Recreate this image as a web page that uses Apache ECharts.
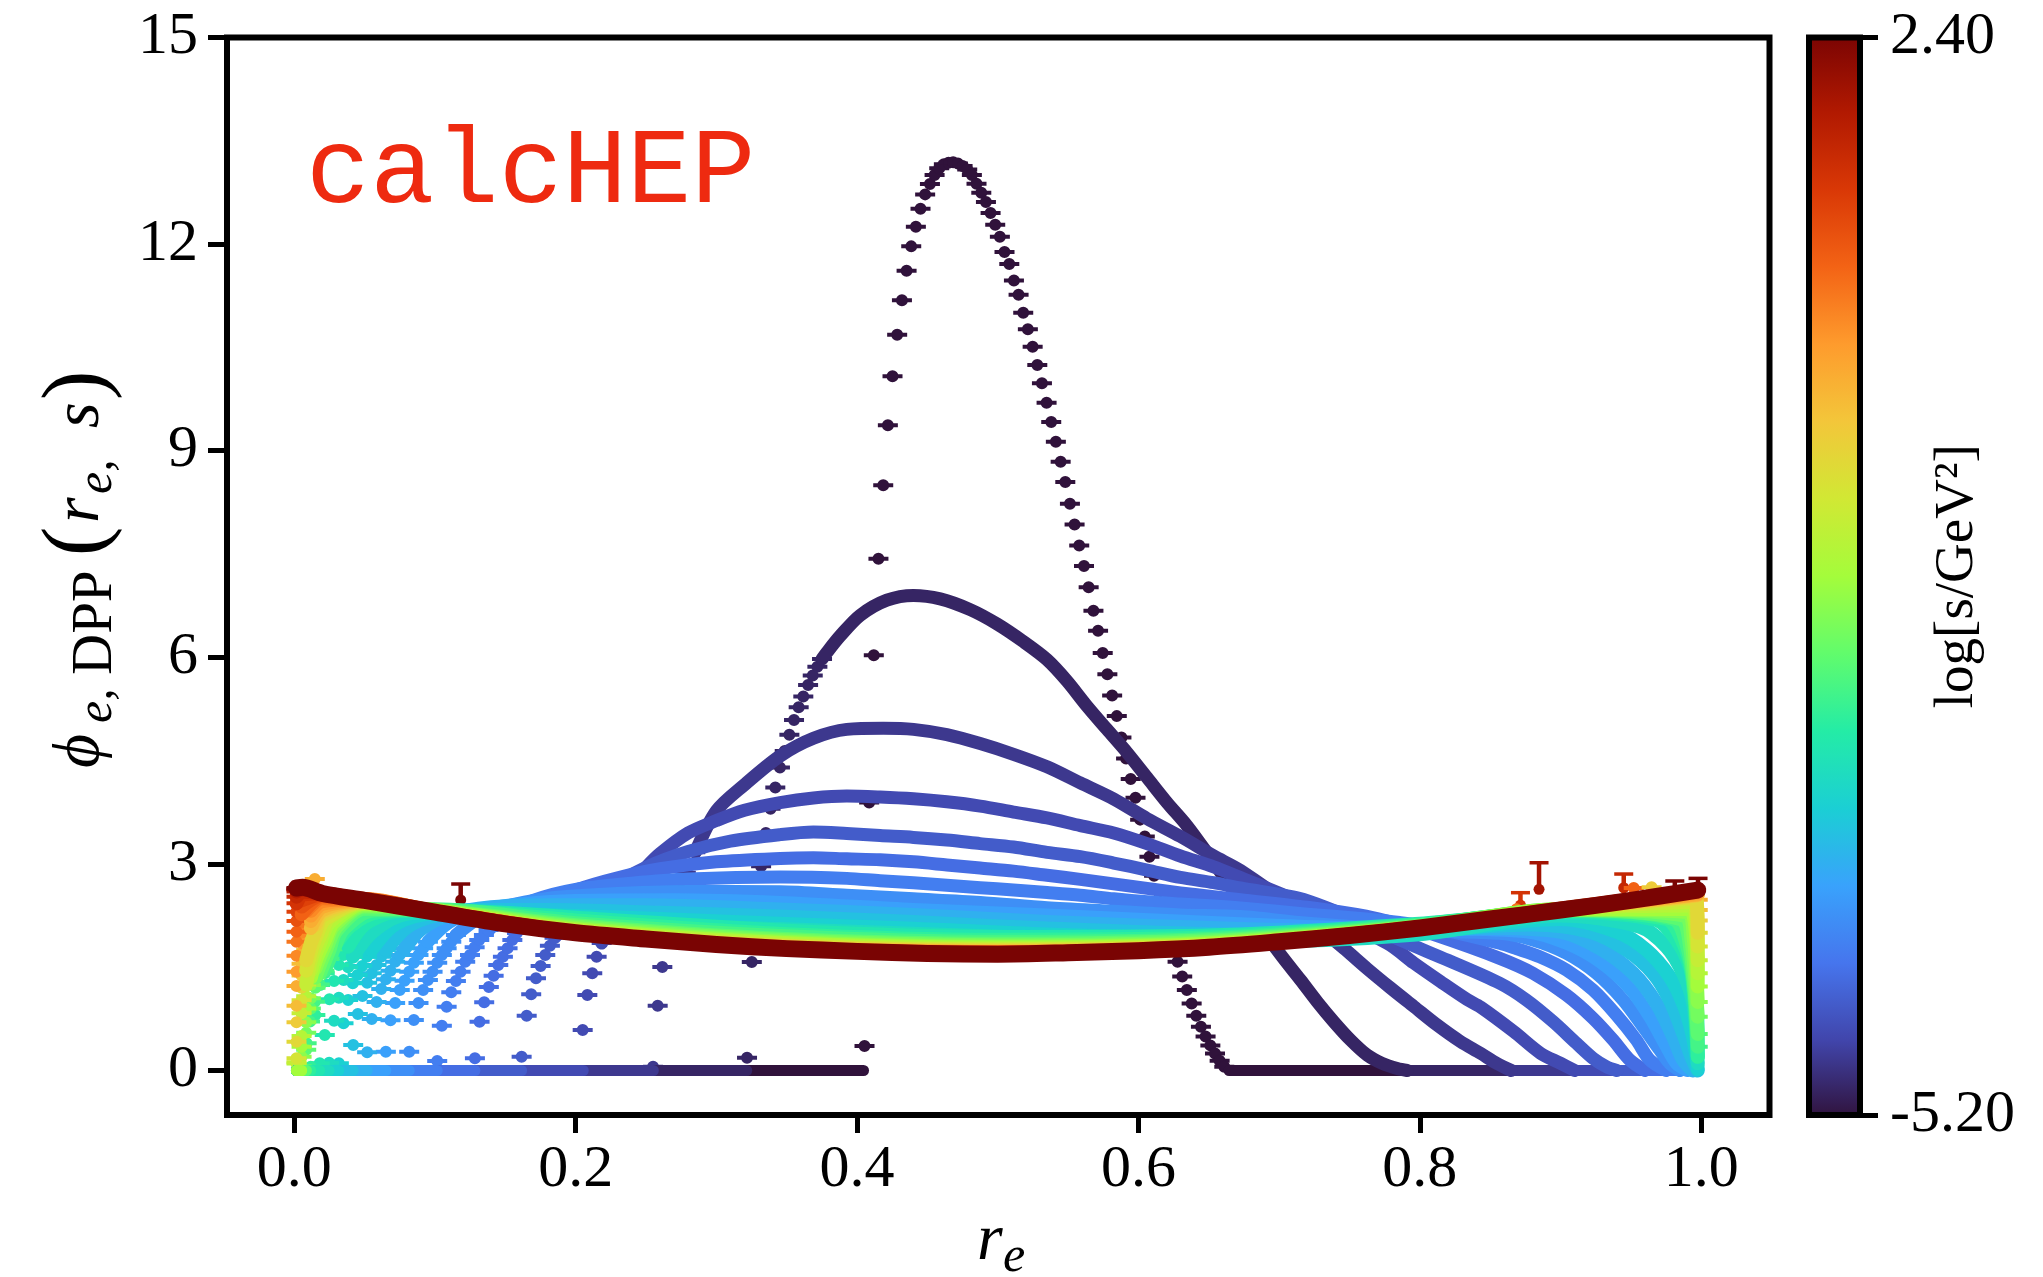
<!DOCTYPE html>
<html>
<head>
<meta charset="UTF-8">
<title>calcHEP</title>
<script src="https://cdn.jsdelivr.net/npm/echarts@6/dist/echarts.min.js"></script>
<style>
  html, body { margin: 0; padding: 0; background: #fff; }
  #main { width: 2043px; height: 1277px; }
</style>
</head>
<body>
<div id="main"></div>
<script>
var xTicks = [0, 0.2, 0.4, 0.6, 0.8, 1.0];
var yTicks = [0, 3, 6, 9, 12, 15];
var barTicks = [-5.2, 2.4];

var turbo = ['#30123b', '#4145ab', '#4675ed', '#39a2fc', '#1bcfd4', '#24eca6', '#61fc6c', '#a4fc3b',
             '#d1e834', '#f3c63a', '#fe9b2d', '#f36315', '#d93806', '#b11901', '#7a0403'];

// log s of each curve, lowest first (drawn in this order)
var logS = [-5.2, -5.0, -4.8, -4.6, -4.4, -4.2, -4.0, -3.8, -3.6, -3.4, -3.2, -3.0, -2.8, -2.6, -2.4, -2.2,
            -2.0, -1.8, -1.6, -1.4, -1.2, -1.0, -0.8, -0.6, -0.4, -0.2, 0.0, 0.2, 0.4, 0.6, 0.8, 1.0,
            1.2, 1.4, 1.6, 1.8, 2.0, 2.2, 2.4];

// where each curve leaves zero on the left and comes back to zero on the right
var riseStart = [0.4046, 0.3216, 0.2552, 0.2054, 0.1616, 0.1284, 0.1016, 0.0817, 0.0651, 0.0518, 0.0419, 0.0317, 0.0248, 0.0181, 0.0117, 0.0088, 0.0085, 0.0052, 0.0052, 0.0052];
var fallEnd = [0.6644, 0.791, 0.865, 0.91, 0.94, 0.96, 0.975, 0.985, 0.99, 0.994, 0.9975, 0.9975];

var curve00Dots = [[0.4053,0.355],[0.4086,3.89],[0.4119,6.03],[0.4152,7.43],[0.4186,8.497],[0.4219,9.368],[0.4252,10.08],[0.4285,10.684],[0.4319,11.183],[0.4352,11.614],[0.4385,11.967],[0.4418,12.253],[0.4451,12.514],[0.4484,12.722],[0.4518,12.872],[0.4551,13.003],[0.4584,13.1],[0.4617,13.158],[0.465,13.182],[0.4683,13.187],[0.4717,13.172],[0.475,13.133],[0.4783,13.085],[0.4816,13.003],[0.4849,12.877],[0.4883,12.746],[0.4916,12.611],[0.4949,12.451],[0.4982,12.282],[0.5015,12.107],[0.5048,11.885],[0.5082,11.71],[0.5115,11.473],[0.5148,11.265],[0.5181,11.004],[0.5214,10.762],[0.5248,10.51],[0.5281,10.244],[0.5314,9.978],[0.5347,9.697],[0.538,9.416],[0.5413,9.131],[0.5447,8.84],[0.548,8.545],[0.5513,8.23],[0.5546,7.93],[0.5579,7.625],[0.5613,7.325],[0.5646,7.018],[0.568,6.676],[0.5713,6.386],[0.5746,6.064],[0.5779,5.753],[0.5813,5.447],[0.5846,5.146],[0.5879,4.835],[0.5912,4.529],[0.5945,4.234],[0.5979,3.959],[0.6012,3.643],[0.6045,3.399],[0.6078,3.103],[0.6111,2.828],[0.6145,2.595],[0.6178,2.336],[0.6211,2.076],[0.6244,1.827],[0.6278,1.578],[0.6311,1.366],[0.6344,1.169],[0.6378,0.972],[0.6411,0.796],[0.6444,0.635],[0.6477,0.495],[0.6511,0.365],[0.6544,0.246],[0.6577,0.142],[0.661,0.054]];

var curve01Dots = [[0.3218,0.186],[0.3252,1.575],[0.3285,2.35],[0.3318,2.965],[0.3352,3.45],[0.3385,3.8],[0.3419,4.11],[0.3452,4.4],[0.3486,4.64],[0.3519,4.877],[0.3552,5.089],[0.3585,5.276],[0.3618,5.432],[0.3652,5.597],[0.3685,5.737],[0.3718,5.862],[0.3751,5.976]];
var curve01Line = [[0.3751,5.976],[0.3785,6.07],[0.388,6.31],[0.4022,6.61],[0.4212,6.83],[0.4401,6.899],[0.4591,6.848],[0.4804,6.692],[0.4994,6.485],[0.5184,6.225],[0.535,5.966],[0.5492,5.656],[0.5634,5.292],[0.5776,4.954],[0.5919,4.617],[0.6061,4.254],[0.6203,3.891],[0.6345,3.555],[0.6487,3.16],[0.675,2.4],[0.7021,1.653],[0.7152,1.314],[0.727,0.999],[0.7388,0.709],[0.7507,0.443],[0.7625,0.225],[0.7732,0.104],[0.7839,0.03],[0.791,0]];

var curve02Dots = [[0.255,0.055],[0.2583,0.941],[0.2616,1.503],[0.265,1.95],[0.2683,2.3],[0.2717,2.55],[0.275,2.75],[0.2783,2.87],[0.2817,2.984],[0.285,3.168]];
var curve02Line = [[0.285,3.168],[0.3,3.77],[0.32,4.15],[0.3453,4.567],[0.369,4.825],[0.3927,4.954],[0.4186,4.97],[0.4401,4.954],[0.4638,4.877],[0.4875,4.747],[0.5112,4.591],[0.535,4.41],[0.5587,4.176],[0.5824,3.944],[0.6061,3.658],[0.6298,3.399],[0.6535,3.115],[0.6725,2.905],[0.7143,2.3],[0.7459,1.774],[0.7625,1.48],[0.7791,1.2],[0.7957,0.93],[0.8123,0.66],[0.8289,0.42],[0.8431,0.25],[0.855,0.1],[0.865,0]];

var curve03Dots = [[0.205,0.588],[0.2083,1.096],[0.2118,1.411],[0.2149,1.653],[0.2185,1.851]];
var curve03Line = [[0.2185,1.851],[0.225,2.2],[0.235,2.6],[0.25,2.95],[0.26,3.15],[0.28,3.45],[0.3,3.63],[0.32,3.78],[0.3453,3.891],[0.369,3.958],[0.3927,3.986],[0.4164,3.971],[0.4401,3.945],[0.4638,3.902],[0.4875,3.84],[0.5112,3.753],[0.535,3.668],[0.5587,3.555],[0.5824,3.45],[0.6061,3.295],[0.6298,3.115],[0.6535,2.958],[0.6725,2.802],[0.7143,2.45],[0.7768,1.847],[0.7957,1.56],[0.8147,1.29],[0.8336,1.03],[0.8432,0.92],[0.8668,0.564],[0.8858,0.25],[0.9001,0.104],[0.91,0]];

var curve04Dots = [[0.1616,0.2],[0.1652,0.796],[0.1684,1.106],[0.1718,1.338],[0.1751,1.517],[0.1784,1.677],[0.1817,1.812],[0.185,1.928]];
var curve04Line = [[0.185,1.928],[0.2,2.25],[0.22,2.6],[0.25,2.95],[0.28,3.18],[0.31,3.33],[0.3453,3.425],[0.369,3.463],[0.3927,3.441],[0.4164,3.411],[0.4401,3.385],[0.4638,3.347],[0.4875,3.295],[0.5112,3.245],[0.535,3.167],[0.5587,3.105],[0.5824,3.013],[0.6061,2.911],[0.6298,2.804],[0.6535,2.727],[0.6725,2.65],[0.7143,2.5],[0.738,2.33],[0.7618,2.14],[0.7855,1.9],[0.82,1.6],[0.8568,1.266],[0.8757,1.024],[0.8947,0.709],[0.9113,0.395],[0.9231,0.177],[0.9326,0.055],[0.94,0]];

var curve05Dots = [[0.1284,0.177],[0.1317,0.709],[0.135,0.99],[0.1383,1.212],[0.1417,1.377],[0.145,1.532],[0.1483,1.653],[0.1516,1.774],[0.155,1.895],[0.1583,1.997],[0.1616,2.084]];
var curve05Line = [[0.1616,2.084],[0.18,2.42],[0.2,2.62],[0.23,2.8],[0.26,2.93],[0.3,3.03],[0.3453,3.08],[0.369,3.09],[0.3927,3.074],[0.4164,3.06],[0.4401,3.03],[0.4638,2.985],[0.4875,2.94],[0.5112,2.895],[0.535,2.835],[0.5587,2.775],[0.5824,2.71],[0.6061,2.645],[0.6298,2.58],[0.6535,2.525],[0.6725,2.48],[0.72,2.37],[0.7618,2.24],[0.7855,2.12],[0.809,1.98],[0.8568,1.629],[0.8805,1.411],[0.9042,1.096],[0.9231,0.758],[0.9374,0.443],[0.9492,0.152],[0.96,0]];

var curve06Dots = [[0.1016,0.138],[0.1049,0.651],[0.1083,0.927],[0.1116,1.135],[0.1149,1.3],[0.1182,1.435],[0.1215,1.58],[0.1249,1.677],[0.1282,1.789],[0.1315,1.895],[0.1348,1.967],[0.1381,2.04]];
var curve06Line = [[0.1381,2.04],[0.15,2.25],[0.17,2.47],[0.2,2.63],[0.24,2.72],[0.28,2.78],[0.3453,2.81],[0.3927,2.79],[0.4164,2.755],[0.4401,2.727],[0.4638,2.69],[0.4875,2.655],[0.5112,2.622],[0.535,2.585],[0.5587,2.545],[0.5824,2.493],[0.6061,2.45],[0.6298,2.418],[0.6535,2.389],[0.6725,2.36],[0.72,2.27],[0.7618,2.2],[0.7855,2.15],[0.809,2.08],[0.8568,1.847],[0.8686,1.77],[0.8852,1.652],[0.9042,1.459],[0.9231,1.169],[0.9397,0.806],[0.9539,0.443],[0.9634,0.152],[0.975,0]];

var curve07Dots = [[0.0817,0.273],[0.085,0.733],[0.0883,0.98],[0.0916,1.169],[0.095,1.314],[0.0983,1.435],[0.1016,1.565],[0.1049,1.677],[0.1083,1.774],[0.1116,1.87],[0.1149,1.967]];
var curve07Line = [[0.1149,1.967],[0.13,2.2],[0.15,2.38],[0.18,2.5],[0.22,2.56],[0.28,2.6],[0.3453,2.597],[0.3927,2.545],[0.4401,2.493],[0.4875,2.441],[0.535,2.364],[0.5824,2.312],[0.6298,2.259],[0.6725,2.235],[0.72,2.14],[0.8,2.03],[0.8568,1.992],[0.8805,1.895],[0.9042,1.702],[0.9255,1.411],[0.9444,1.024],[0.9586,0.636],[0.9705,0.298],[0.9776,0.104],[0.985,0]];

var curve08Dots = [[0.0651,0.273],[0.0684,0.729],[0.0717,0.98],[0.075,1.169],[0.0784,1.304],[0.0817,1.435],[0.085,1.565],[0.0883,1.677],[0.0916,1.774],[0.095,1.87]];
var curve08Line = [[0.095,1.87],[0.11,2.15],[0.13,2.32],[0.16,2.42],[0.2,2.47],[0.27,2.48],[0.3453,2.441],[0.4401,2.338],[0.535,2.259],[0.6725,2.13],[0.75,2.07],[0.8,2.06],[0.8757,2.016],[0.9042,1.847],[0.928,1.58],[0.9492,1.194],[0.9634,0.781],[0.9752,0.346],[0.9823,0.104],[0.99,0]];

var curve09Dots = [[0.0518,0.264],[0.0551,0.748],[0.0585,0.995],[0.0618,1.183],[0.0651,1.324],[0.0684,1.449],[0.0717,1.58],[0.075,1.677],[0.0784,1.774]];
var curve09Line = [[0.0784,1.774],[0.09,2.05],[0.11,2.26],[0.14,2.37],[0.18,2.4],[0.25,2.4],[0.3453,2.338],[0.4401,2.259],[0.535,2.156],[0.6725,2.055],[0.75,2.03],[0.85,2.07],[0.8994,2.016],[0.928,1.774],[0.9516,1.411],[0.9681,0.976],[0.98,0.491],[0.9871,0.152],[0.994,0]];

var curve10Dots = [[0.0419,0.37],[0.0452,0.82],[0.0485,1.082],[0.0518,1.275],[0.0551,1.411],[0.0585,1.532],[0.0618,1.653],[0.0651,1.75]];
var curve10Line = [[0.0651,1.75],[0.08,2.08],[0.1,2.25],[0.13,2.33],[0.18,2.33],[0.26,2.29],[0.3453,2.235],[0.4401,2.156],[0.535,2.062],[0.6725,1.975],[0.8,2.03],[0.88,2.12],[0.9208,2.016],[0.9469,1.75],[0.9658,1.411],[0.9776,1.024],[0.9871,0.54],[0.993,0.2],[0.9975,0]];

var curve11Dots = [[0.0317,0.104],[0.035,0.685],[0.0383,1.024],[0.0416,1.266],[0.045,1.387],[0.0483,1.517],[0.0516,1.653],[0.0549,1.75]];
var curve11Line = [[0.0549,1.75],[0.07,2.1],[0.09,2.26],[0.12,2.3],[0.18,2.26],[0.26,2.2],[0.3453,2.13],[0.4401,2.06],[0.535,1.975],[0.6725,1.909],[0.8,2.0],[0.9,2.2],[0.9397,2.016],[0.961,1.75],[0.9776,1.362],[0.9871,0.976],[0.993,0.588],[0.9966,0.2],[0.9975,0.02]];

var curve12Dots = [[0.0248,0.113],[0.0283,0.723],[0.0317,1.057],[0.035,1.314],[0.0383,1.498],[0.0416,1.653]];
var curve12Line = [[0.0416,1.653],[0.055,2.0],[0.075,2.25],[0.1,2.3],[0.15,2.24],[0.25,2.11],[0.3453,2.055],[0.4401,1.985],[0.535,1.924],[0.6725,1.872],[0.8,1.98],[0.9,2.25],[0.9563,2.088],[0.9752,1.798],[0.9871,1.411],[0.9942,0.976],[0.9975,0.104]];

var curve13Dots = [[0.0181,0.104],[0.0217,0.515],[0.025,1.034],[0.0283,1.3],[0.0317,1.532],[0.035,1.677],[0.0383,1.798]];
var curve13Line = [[0.0383,1.798],[0.05,2.12],[0.07,2.3],[0.1,2.33],[0.2,2.22],[0.35,2.03],[0.5,1.94],[0.65,1.96],[0.8,2.13],[0.9,2.3],[0.968,2.185],[0.9823,1.895],[0.9918,1.507],[0.9966,1.024],[0.9975,0.2]];

var curve14Dots = [[0.0117,0.055],[0.015,0.806],[0.0184,1.241],[0.0217,1.411],[0.025,1.644],[0.0283,1.798]];
var curve14Line = [[0.0283,1.798],[0.04,2.1],[0.06,2.3],[0.1,2.33],[0.2,2.18],[0.35,1.98],[0.5,1.9],[0.65,1.93],[0.8,2.12],[0.9,2.32],[0.975,2.2],[0.985,1.95],[0.993,1.45],[0.9975,0.2]];

var curve15Dots = [[0.0088,0.395],[0.0112,0.71],[0.0147,1.0],[0.018,1.25],[0.0215,1.45],[0.025,1.62],[0.028,1.76],[0.9975,0.346]];
var curve15Line = [[0.0215,1.45],[0.025,1.62],[0.028,1.76],[0.035,2.05],[0.055,2.32],[0.1,2.34],[0.2,2.14],[0.35,1.95],[0.5,1.87],[0.65,1.91],[0.8,2.11],[0.9,2.33],[0.98,2.2],[0.99,1.8],[0.995,1.2],[0.9975,0.346]];

var curve16Dots = [[0.0085,0.3],[0.0118,0.9],[0.0151,1.2],[0.0185,1.42],[0.022,1.6],[0.025,1.75],[0.9975,0.53]];
var curve16Line = [[0.0185,1.42],[0.022,1.6],[0.025,1.75],[0.03,2.03],[0.05,2.35],[0.1,2.33],[0.2,2.11],[0.35,1.91],[0.5,1.84],[0.65,1.89],[0.8,2.1],[0.9,2.33],[0.985,2.2],[0.992,1.8],[0.9975,0.53]];

var curve17Dots = [[0.0052,0.06],[0.0085,0.55],[0.0118,1.05],[0.0151,1.35],[0.0185,1.55],[0.022,1.72],[0.9975,0.781]];
var curve17Line = [[0.0151,1.35],[0.0185,1.55],[0.022,1.72],[0.03,2.08],[0.05,2.38],[0.1,2.33],[0.2,2.09],[0.35,1.89],[0.5,1.82],[0.65,1.87],[0.8,2.09],[0.9,2.34],[0.988,2.25],[0.993,1.9],[0.9975,0.781]];

var curve18Dots = [[0.0052,0.2],[0.0085,0.7],[0.0118,1.24],[0.0151,1.48],[0.0185,1.66],[0.022,1.82],[0.9975,0.996]];
var curve18Line = [[0.0151,1.48],[0.0185,1.66],[0.022,1.82],[0.028,2.1],[0.05,2.4],[0.1,2.33],[0.2,2.07],[0.35,1.87],[0.5,1.8],[0.65,1.85],[0.8,2.09],[0.9,2.34],[0.99,2.3],[0.9945,1.95],[0.9975,0.996]];

var curve19Dots = [[0.0052,0.346],[0.0085,0.9],[0.0118,1.35],[0.0151,1.58],[0.0185,1.75],[0.022,1.9],[0.9975,1.22]];
var curve19Line = [[0.0118,1.35],[0.0151,1.58],[0.0185,1.75],[0.022,1.9],[0.028,2.15],[0.05,2.42],[0.1,2.32],[0.2,2.05],[0.35,1.85],[0.5,1.785],[0.65,1.84],[0.8,2.08],[0.9,2.34],[0.992,2.35],[0.9975,1.22]];

var curve20Dots = [[0.0016,0.1],[0.0052,0.5],[0.0085,1.08],[0.0118,1.45],[0.0151,1.68],[0.0185,1.85],[0.9975,1.411]];
var curve20Line = [[0.0118,1.45],[0.0151,1.68],[0.0185,1.85],[0.025,2.15],[0.05,2.43],[0.1,2.32],[0.2,2.04],[0.35,1.84],[0.5,1.77],[0.65,1.83],[0.8,2.08],[0.9,2.34],[0.994,2.4],[0.9975,1.411]];

var curve21Dots = [[0.0016,0.12],[0.0052,0.83],[0.0085,1.25],[0.0118,1.6],[0.0151,1.8],[0.0185,1.95],[0.9975,1.6]];
var curve21Line = [[0.0085,1.25],[0.0118,1.6],[0.0151,1.8],[0.0185,1.95],[0.025,2.22],[0.05,2.44],[0.1,2.31],[0.2,2.03],[0.35,1.82],[0.5,1.76],[0.65,1.82],[0.8,2.08],[0.9,2.34],[0.995,2.45],[0.9975,1.6]];

var curve22Dots = [[0.0016,0.177],[0.0052,1.02],[0.0085,1.45],[0.0118,1.72],[0.0151,1.92],[0.9975,1.8]];
var curve22Line = [[0.0085,1.45],[0.0118,1.72],[0.0151,1.92],[0.022,2.2],[0.05,2.45],[0.1,2.31],[0.2,2.02],[0.35,1.81],[0.5,1.75],[0.65,1.81],[0.8,2.08],[0.9,2.34],[0.996,2.5],[0.9975,1.8]];

var curve23Dots = [[0.0016,0.418],[0.0052,1.2],[0.0085,1.6],[0.0118,1.85],[0.0151,2.02],[0.9975,2.0]];
var curve23Line = [[0.0085,1.6],[0.0118,1.85],[0.0151,2.02],[0.02,2.25],[0.05,2.45],[0.1,2.31],[0.2,2.01],[0.35,1.8],[0.5,1.74],[0.65,1.81],[0.8,2.07],[0.9,2.34],[0.996,2.52],[0.9975,2.0]];

var curve24Dots = [[0.0016,0.7],[0.0052,1.38],[0.0085,1.75],[0.0118,1.97],[0.0151,2.12],[0.9975,2.18]];
var curve24Line = [[0.0151,2.12],[0.02,2.3],[0.05,2.46],[0.1,2.3],[0.2,2.01],[0.35,1.79],[0.5,1.73],[0.65,1.8],[0.8,2.07],[0.9,2.33],[0.997,2.54]];

var curve25Dots = [[0.0016,0.941],[0.0052,1.55],[0.0085,1.88],[0.0118,2.07],[0.9975,2.33]];
var curve25Line = [[0.0118,2.07],[0.02,2.33],[0.05,2.47],[0.1,2.31],[0.2,2.01],[0.35,1.79],[0.5,1.725],[0.65,1.8],[0.8,2.07],[0.9,2.34],[0.9975,2.55]];

var curve26Dots = [[0.0016,1.227],[0.0052,1.7],[0.0085,2.0],[0.0118,2.17],[0.9975,2.48]];
var curve26Line = [[0.0118,2.17],[0.02,2.38],[0.05,2.47],[0.1,2.31],[0.2,2.01],[0.35,1.78],[0.5,1.72],[0.65,1.8],[0.8,2.07],[0.9,2.34],[0.9975,2.56]];

var curve27Dots = [[0.0016,1.435],[0.0052,1.85],[0.0085,2.12],[0.0118,2.25]];
var curve27Line = [[0.0118,2.25],[0.02,2.42],[0.05,2.48],[0.1,2.31],[0.2,2.01],[0.35,1.78],[0.5,1.72],[0.65,1.8],[0.8,2.08],[0.9,2.34],[0.9975,2.58]];

var curve28Dots = [[0.0016,1.667],[0.0052,2.0],[0.0085,2.22],[0.0118,2.32]];
var curve28Line = [[0.0118,2.32],[0.02,2.46],[0.05,2.49],[0.1,2.31],[0.2,2.01],[0.35,1.78],[0.5,1.715],[0.65,1.8],[0.8,2.08],[0.9,2.35],[0.9975,2.6]];

var curve29Dots = [[0.0016,1.87],[0.0052,2.15],[0.0085,2.32]];
var curve29Line = [[0.0085,2.32],[0.02,2.5],[0.05,2.49],[0.1,2.31],[0.2,2.01],[0.35,1.78],[0.5,1.71],[0.65,1.8],[0.8,2.08],[0.9,2.35],[0.9975,2.61]];

var curve30Dots = [[0.0016,2.015],[0.0052,2.27]];
var curve30Line = [[0.0052,2.27],[0.02,2.53],[0.05,2.49],[0.1,2.31],[0.2,2.01],[0.35,1.78],[0.5,1.71],[0.65,1.8],[0.8,2.08],[0.9,2.34],[0.9975,2.62]];

var curve31Dots = [[0.0016,2.171],[0.0052,2.38]];
var curve31Line = [[0.0052,2.38],[0.02,2.55],[0.05,2.48],[0.1,2.31],[0.2,2.0],[0.35,1.78],[0.5,1.71],[0.65,1.79],[0.8,2.07],[0.9,2.34],[0.9975,2.62]];

var curve32Dots = [[0.0016,2.306],[0.0052,2.47]];
var curve32Line = [[0.0052,2.47],[0.02,2.56],[0.05,2.48],[0.1,2.3],[0.2,2.0],[0.35,1.77],[0.5,1.7],[0.65,1.79],[0.8,2.07],[0.9,2.33],[0.9975,2.62]];

var curve33Dots = [[0.0016,2.428]];
var curve33Line = [[0.0016,2.428],[0.006,2.56],[0.02,2.57],[0.05,2.47],[0.1,2.3],[0.2,2.0],[0.35,1.77],[0.5,1.7],[0.65,1.79],[0.8,2.07],[0.9,2.33],[0.9975,2.62]];

var curve34Dots = [[0.0016,2.524]];
var curve34Line = [[0.0016,2.524],[0.006,2.6],[0.02,2.57],[0.05,2.47],[0.1,2.3],[0.2,2.0],[0.35,1.77],[0.5,1.7],[0.65,1.79],[0.8,2.07],[0.9,2.33],[0.9975,2.62]];

var curve35Dots = [[0.0016,2.6]];
var curve35Line = [[0.0016,2.6],[0.006,2.63],[0.02,2.57],[0.05,2.47],[0.1,2.3],[0.2,2.0],[0.35,1.77],[0.5,1.7],[0.65,1.79],[0.8,2.07],[0.9,2.33],[0.9975,2.62]];

var curve36Dots = [[0.0016,2.63]];
var curve36Line = [[0.0016,2.63],[0.006,2.64],[0.02,2.57],[0.05,2.47],[0.1,2.3],[0.2,2.0],[0.35,1.77],[0.5,1.7],[0.65,1.79],[0.8,2.07],[0.9,2.33],[0.9975,2.62]];

var curve37Dots = [[0.0016,2.64]];
var curve37Line = [[0.0016,2.64],[0.006,2.65],[0.02,2.57],[0.05,2.47],[0.1,2.3],[0.2,2.0],[0.35,1.77],[0.5,1.7],[0.65,1.79],[0.8,2.07],[0.9,2.33],[0.9975,2.62]];

var curve38Dots = [[0.1982,2.113],[0.4946,1.72],[0.6914,1.92],[0.0016,2.65]];
var curve38Line = [[0.0016,2.65],[0.006,2.66],[0.02,2.57],[0.05,2.47],[0.1,2.3],[0.15,2.13],[0.2,2.0],[0.25,1.91],[0.3,1.83],[0.35,1.77],[0.4,1.73],[0.45,1.7],[0.5,1.69],[0.55,1.71],[0.6,1.74],[0.65,1.79],[0.7,1.87],[0.75,1.96],[0.8,2.07],[0.85,2.2],[0.9,2.33],[0.95,2.47],[0.9975,2.62]];

var allDots = [curve00Dots, curve01Dots, curve02Dots, curve03Dots, curve04Dots, curve05Dots, curve06Dots, curve07Dots, curve08Dots, curve09Dots,
               curve10Dots, curve11Dots, curve12Dots, curve13Dots, curve14Dots, curve15Dots, curve16Dots, curve17Dots, curve18Dots, curve19Dots,
               curve20Dots, curve21Dots, curve22Dots, curve23Dots, curve24Dots, curve25Dots, curve26Dots, curve27Dots, curve28Dots, curve29Dots,
               curve30Dots, curve31Dots, curve32Dots, curve33Dots, curve34Dots, curve35Dots, curve36Dots, curve37Dots, curve38Dots];
var allLines = [[], curve01Line, curve02Line, curve03Line, curve04Line, curve05Line, curve06Line, curve07Line, curve08Line, curve09Line,
                curve10Line, curve11Line, curve12Line, curve13Line, curve14Line, curve15Line, curve16Line, curve17Line, curve18Line, curve19Line,
                curve20Line, curve21Line, curve22Line, curve23Line, curve24Line, curve25Line, curve26Line, curve27Line, curve28Line, curve29Line,
                curve30Line, curve31Line, curve32Line, curve33Line, curve34Line, curve35Line, curve36Line, curve37Line, curve38Line];

// points with a visible upper error bar: r, value, top of bar, log s
var errR = [0.1183, 0.8715, 0.8847, 0.9449, 0.9812, 0.9977];
var errV = [2.476, 2.403, 2.631, 2.654, 2.6, 2.65];
var errTop = [2.708, 2.582, 3.017, 2.853, 2.752, 2.79];
var errLogS = [2.4, 1.4, 2.0, 1.6, 2.4, 2.4];

// lone points standing out from the band: r, value, log s
var loneR = [0.5919, 0.8687, 0.952, 0.9647, 0.0146];
var loneV = [1.983, 2.34, 2.65, 2.66, 2.78];
var loneLogS = [2.0, 0.6, 0.8, -0.4, 0.0];

// error bar dot with its horizontal cap
var dotSymbol = 'path://M0 4H20V8H0Z M16 6A6 6 0 1 1 4 6A6 6 0 1 1 16 6Z';

function colorOf(s) {
    return echarts.color.lerp((s + 5.2) / 7.6, turbo);
}

var series = [];
for (var k = 0; k < logS.length; k++) {
    var color = colorOf(logS[k]);
    var flat = [];
    if (k < riseStart.length) {
        flat.push([[0.0016, 0], [riseStart[k], 0]]);
    }
    if (k < fallEnd.length) {
        flat.push([[fallEnd[k], 0], [0.9975, 0]]);
    }
    flat.forEach(function (part) {
        series.push({
            type: 'line', data: part, showSymbol: false, silent: true,
            lineStyle: { color: color, width: 11, cap: 'round' }
        });
    });
    if (allLines[k].length) {
        series.push({
            type: 'line', data: allLines[k], showSymbol: false, silent: true,
            smooth: 0.3,
            lineStyle: { color: color, width: k === 38 ? 17 : (k <= 8 ? 13 : 14), cap: 'round', join: 'round' }
        });
    }
    series.push({
        type: 'scatter', data: allDots[k], symbol: dotSymbol, symbolSize: [20, 12], silent: true,
        itemStyle: { color: color, opacity: 1 }
    });
}

series.push({
    type: 'custom', silent: true, clip: false,
    data: errR.map(function (r, i) { return [r, errV[i], errTop[i], errLogS[i]]; }),
    renderItem: function (params, api) {
        var low = api.coord([api.value(0), api.value(1)]);
        var top = api.coord([api.value(0), api.value(2)]);
        var c = colorOf(api.value(3));
        return {
            type: 'group',
            children: [
                { type: 'line', shape: { x1: low[0], y1: low[1], x2: top[0], y2: top[1] }, style: { stroke: c, lineWidth: 4.5 } },
                { type: 'line', shape: { x1: top[0] - 9.5, y1: top[1], x2: top[0] + 9.5, y2: top[1] }, style: { stroke: c, lineWidth: 3.5 } },
                { type: 'circle', shape: { cx: low[0], cy: low[1], r: 5.5 }, style: { fill: c } }
            ]
        };
    }
});

loneR.forEach(function (r, i) {
    series.push({
        type: 'scatter', data: [[r, loneV[i]]], silent: true,
        symbol: i === 0 ? 'circle' : dotSymbol, symbolSize: i === 0 ? 11 : [20, 12],
        itemStyle: { color: colorOf(loneLogS[i]), opacity: 1 }
    });
});

// colour bar, one rectangle on its own value axis
series.push({
    type: 'custom', xAxisIndex: 1, yAxisIndex: 1, silent: true, clip: false,
    data: [[0, barTicks[0], 1, barTicks[1]]],
    renderItem: function (params, api) {
        var a = api.coord([api.value(0), api.value(1)]);
        var b = api.coord([api.value(2), api.value(3)]);
        return {
            type: 'rect',
            shape: { x: a[0], y: b[1], width: b[0] - a[0], height: a[1] - b[1] },
            style: {
                stroke: '#000', lineWidth: 6,
                fill: new echarts.graphic.LinearGradient(0, 1, 0, 0, turbo.map(function (c, i) {
                    return { offset: i / (turbo.length - 1), color: c };
                }))
            }
        };
    }
});

var serif = '"Liberation Serif", "Times New Roman", serif';
function mathText(text, x, y, font) {
    return { type: 'text', x: x, y: y, style: { text: text, font: font + ' ' + serif, fill: '#000', textAlign: 'left', textVerticalAlign: 'middle' } };
}

var option = {
    animation: false,
    backgroundColor: '#fff',
    grid: [
        { left: 227, top: 37.5, width: 1542.5, height: 1077.5, show: true, borderColor: '#000', borderWidth: 6, backgroundColor: 'transparent' },
        { left: 1809, top: 37.5, width: 51, height: 1077.5 }
    ],
    xAxis: [
        {
            type: 'value', gridIndex: 0, min: -0.0478, max: 1.0485, splitLine: { show: false },
            axisLine: { show: false, onZero: false },
            axisTick: { show: true, length: 18, lineStyle: { width: 5, color: '#000' }, customValues: xTicks },
            axisLabel: { fontFamily: serif, fontSize: 60, color: '#000', margin: 25, customValues: xTicks, formatter: function (v) { return v.toFixed(1); } }
        },
        { type: 'value', gridIndex: 1, min: 0, max: 1, show: false }
    ],
    yAxis: [
        {
            type: 'value', gridIndex: 0, min: -0.646, max: 15, splitLine: { show: false },
            axisLine: { show: false, onZero: false },
            axisTick: { show: true, length: 19, lineStyle: { width: 5, color: '#000' }, customValues: yTicks },
            axisLabel: { fontFamily: serif, fontSize: 60, color: '#000', margin: 29, padding: [13, 0, 0, 0], customValues: yTicks }
        },
        {
            type: 'value', gridIndex: 1, position: 'right', min: barTicks[0], max: barTicks[1], splitLine: { show: false },
            axisLine: { show: false, onZero: false },
            axisTick: { show: true, length: 18, lineStyle: { width: 5, color: '#000' }, customValues: barTicks },
            axisLabel: { fontFamily: serif, fontSize: 60, color: '#000', margin: 30, padding: [13, 0, 0, 0], customValues: barTicks, formatter: function (v) { return v.toFixed(2); } },
            name: 'log[s/GeV²]', nameLocation: 'middle', nameRotate: 90, nameGap: 70, nameMoveOverlap: false,
            nameTextStyle: { fontFamily: serif, fontSize: 55, color: '#000' }
        }
    ],
    series: series,
    graphic: [
        { type: 'text', x: 306, y: 174, style: { text: 'calcHEP', font: '107px "Liberation Mono", monospace', fill: '#ee2a10', textAlign: 'left', textVerticalAlign: 'middle' } },
        mathText('r', 977, 1242, 'italic 66px'),
        mathText('e', 1003, 1258, 'italic 50px'),
        {
            type: 'group', x: 0, y: 770, rotation: Math.PI / 2,
            children: [
                mathText('ϕ', 2, 81, 'italic 66px'),
                mathText('e,', 47, 98, 'italic 50px'),
                mathText('DPP', 95, 96, '57px'),
                mathText('(', 214, 80, '88px'),
                mathText('r', 247, 81, 'italic 66px'),
                mathText('e,', 276, 98, 'italic 50px'),
                mathText('s', 342, 81, 'italic 66px'),
                mathText(')', 370, 80, '88px')
            ]
        }
    ]
};

var chart = echarts.init(document.getElementById('main'), null, { renderer: 'canvas' });
chart.setOption(option);
</script>
</body>
</html>
